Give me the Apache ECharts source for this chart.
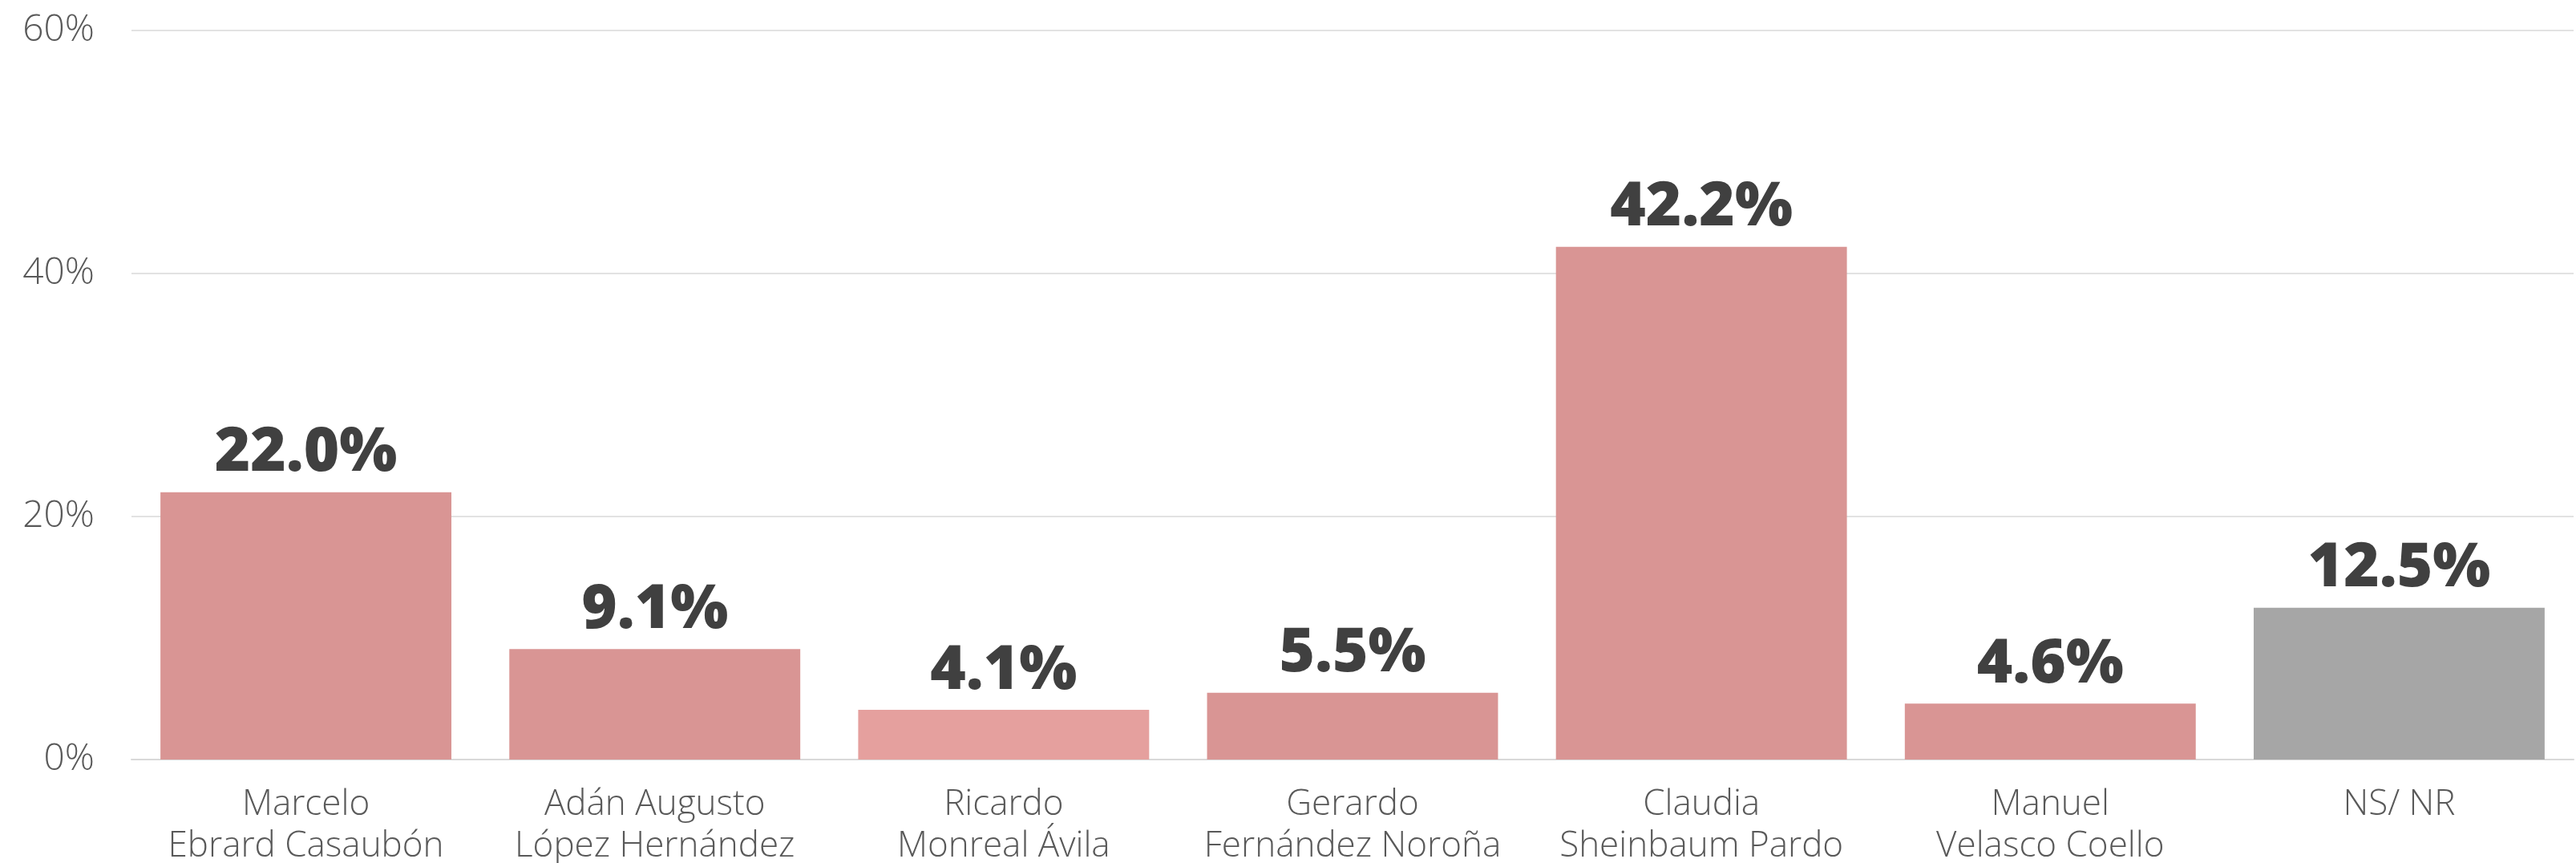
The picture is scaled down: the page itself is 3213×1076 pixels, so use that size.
<!DOCTYPE html>
<html>
<head>
<meta charset="utf-8">
<style>
html,body{margin:0;padding:0;background:#fff;}
#chart{width:3213px;height:1076px;}
</style>
<script src="https://cdn.jsdelivr.net/npm/echarts@6/dist/echarts.min.js"></script>
</head>
<body>
<div id="chart"></div>
<script>
const categories = [
  "Marcelo\nEbrard Casaubón",
  "Adán Augusto\nLópez Hernández",
  "Ricardo\nMonreal Ávila",
  "Gerardo\nFernández Noroña",
  "Claudia\nSheinbaum Pardo",
  "Manuel\nVelasco Coello",
  "NS/ NR"
];
const values = [22.0, 9.1, 4.1, 5.5, 42.2, 4.6, 12.5];
const barColors = ["#D99594", "#D99594", "#E5A09E", "#D99594", "#D99594", "#D99594", "#A6A6A6"];
const yTicks = [0, 20, 40, 60];

const chart = echarts.init(document.getElementById('chart'), null, {renderer: 'canvas'});
chart.setOption({
  animation: false,
  backgroundColor: '#ffffff',
  grid: {left: 164, right: 3, top: 38, bottom: 129, containLabel: false, outerBoundsMode: 'none'},
  xAxis: {
    type: 'category',
    data: categories,
    axisLine: {show: true, lineStyle: {color: '#D9D9D9', width: 2}},
    axisTick: {show: false},
    axisLabel: {
      color: '#595959',
      fontFamily: 'Open Sans',
      fontWeight: 300,
      fontSize: 44,
      lineHeight: 52,
      margin: 30,
      interval: 0
    }
  },
  yAxis: {
    type: 'value',
    min: yTicks[0],
    max: yTicks[yTicks.length - 1],
    interval: 20,
    axisLine: {show: false},
    axisTick: {show: false},
    splitLine: {lineStyle: {color: '#D9D9D9', width: 1.5}},
    axisLabel: {
      color: '#595959',
      fontFamily: 'Open Sans',
      fontWeight: 300,
      fontSize: 46,
      margin: 46,
      formatter: v => v + '%'
    }
  },
  series: [{
    type: 'bar',
    data: values.map((v, i) => ({value: v, itemStyle: {color: barColors[i]}})),
    barWidth: '83.4%',
    label: {
      show: true,
      position: 'top',
      distance: 10,
      color: '#404040',
      fontFamily: 'Open Sans',
      fontWeight: 800,
      fontSize: 76,
      formatter: p => p.value.toFixed(1) + '%'
    }
  }]
});
</script>
</body>
</html>
